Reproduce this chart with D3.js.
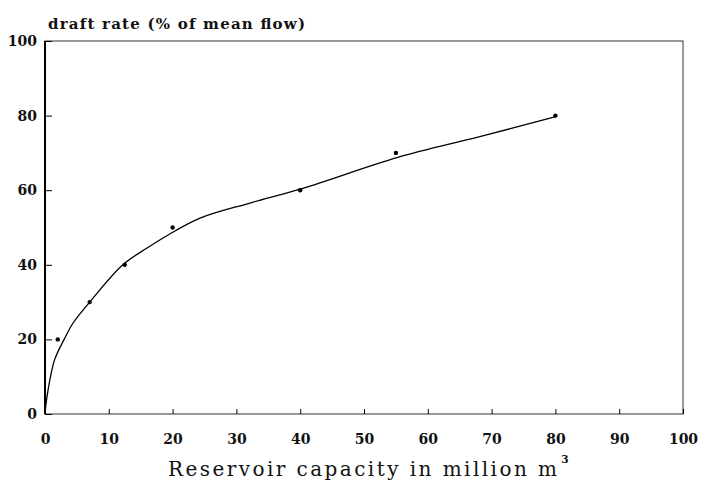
<!DOCTYPE html>
<html>
<head>
<meta charset="utf-8">
<script src="https://cdn.jsdelivr.net/npm/d3@7"></script>
<style>
  body { margin: 0; background: #fff; }
  svg { display: block; }
</style>
</head>
<body>
<svg id="chart"></svg>
<script>
// observed points (capacity, draft %)
const capPts = [2, 7, 12.5, 20, 40, 55, 80];
const draftPts = [20, 30, 40, 50, 60, 70, 80];

// fitted curve
const capCurve = [0, 0.3, 1.5, 3, 4.4, 7.3, 12.2, 16, 19.3, 24.3, 32, 40.4, 55.3, 68, 80.2];
const draftCurve = [0, 4.5, 14.5, 20, 24.4, 30.6, 40, 44.5, 48, 52.5, 56.5, 60.5, 68.8, 74.3, 79.8];

const xTicks = [0, 10, 20, 30, 40, 50, 60, 70, 80, 90, 100];
const yTicks = [0, 20, 40, 60, 80, 100];

const width = 701;
const height = 482;
const mLeft = 45, mRight = 683, mTop = 41, mBottom = 414;
const serif = "'DejaVu Serif', 'Liberation Serif', serif";

const svg = d3.select('#chart')
  .attr('width', width)
  .attr('height', height);

const x = d3.scaleLinear().domain([0, 100]).range([mLeft, mRight]);
const y = d3.scaleLinear().domain([0, 100]).range([mBottom, mTop]);

// frame (thin, a bit grey like the scan)
svg.append('rect')
  .attr('x', mLeft)
  .attr('y', mTop)
  .attr('width', mRight - mLeft)
  .attr('height', mBottom - mTop)
  .style('fill', 'none')
  .style('stroke', '#333')
  .style('stroke-width', 1);

// left axis drawn thicker
svg.append('line')
  .attr('x1', mLeft).attr('x2', mLeft)
  .attr('y1', mTop).attr('y2', mBottom)
  .style('stroke', '#000')
  .style('stroke-width', 2);

const xAxis = svg.append('g')
  .attr('transform', `translate(0,${mBottom})`)
  .call(d3.axisBottom(x).tickValues(xTicks).tickSize(-5).tickPadding(20).tickFormat(d3.format('d')));
xAxis.select('.domain').remove();

const yAxis = svg.append('g')
  .attr('transform', `translate(${mLeft},0)`)
  .call(d3.axisLeft(y).tickValues(yTicks).tickSize(-7).tickPadding(8).tickFormat(d3.format('d')));
yAxis.select('.domain').remove();

svg.selectAll('.tick line').style('stroke', '#000').style('stroke-width', 1);
svg.selectAll('.tick text')
  .style('fill', '#111')
  .style('font-family', serif)
  .style('font-weight', 'bold')
  .style('font-size', '14px');

// curve
const line = d3.line()
  .x(d => x(d[0]))
  .y(d => y(d[1]))
  .curve(d3.curveCatmullRom.alpha(0.5));

svg.append('path')
  .datum(d3.zip(capCurve, draftCurve))
  .attr('d', line)
  .style('fill', 'none')
  .style('stroke', '#000')
  .style('stroke-width', 1.3);

// data points
svg.selectAll('circle.pt')
  .data(d3.zip(capPts, draftPts))
  .enter().append('circle')
  .attr('class', 'pt')
  .attr('cx', d => x(d[0]))
  .attr('cy', d => y(d[1]))
  .attr('r', 2.2)
  .style('fill', '#000');

// titles
svg.append('text')
  .attr('x', 48)
  .attr('y', 29)
  .attr('textLength', 257)
  .attr('lengthAdjust', 'spacing')
  .style('font-family', serif)
  .style('font-weight', 'bold')
  .style('font-size', '15px')
  .style('fill', '#111')
  .text('draft rate (% of mean flow)');

svg.append('text')
  .attr('x', 168)
  .attr('y', 476)
  .attr('textLength', 389)
  .attr('lengthAdjust', 'spacing')
  .style('font-family', serif)
  .style('font-size', '20px')
  .style('fill', '#111')
  .text('Reservoir capacity in million m');
svg.append('text')
  .attr('x', 561)
  .attr('y', 463)
  .style('font-family', serif)
  .style('font-size', '11px')
  .style('font-weight', 'bold')
  .style('fill', '#111')
  .text('3');
</script>
</body>
</html>
